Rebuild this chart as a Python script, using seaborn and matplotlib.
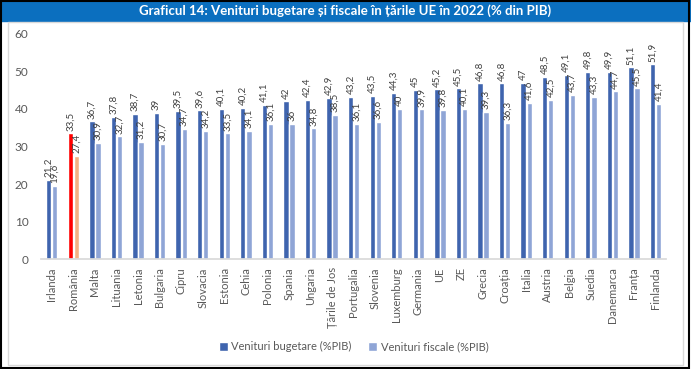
import pandas as pd
import matplotlib.pyplot as plt
import seaborn as sns
from matplotlib.patches import Rectangle

# ── Data ──────────────────────────────────────────────────────────────────────
countries = ['Irlanda', 'România', 'Malta', 'Lituania', 'Letonia', 'Bulgaria', 'Cipru',
             'Slovacia', 'Estonia', 'Cehia', 'Polonia', 'Spania', 'Ungaria', 'Țările de Jos',
             'Portugalia', 'Slovenia', 'Luxemburg', 'Germania', 'UE', 'ZE', 'Grecia',
             'Croația', 'Italia', 'Austria', 'Belgia', 'Suedia', 'Danemarca', 'Franța',
             'Finlanda']
venituri_bugetare = [21.2, 33.5, 36.7, 37.8, 38.7, 39, 39.5, 39.6, 40.1, 40.2, 41.1, 42,
                     42.4, 42.9, 43.2, 43.5, 44.3, 45, 45.2, 45.5, 46.8, 46.8, 47, 48.5,
                     49.1, 49.8, 49.9, 51.1, 51.9]
venituri_fiscale = [19.6, 27.4, 30.9, 32.7, 31.2, 30.7, 34.7, 34.2, 33.5, 34.1, 36.1, 36,
                    34.8, 38.5, 36.1, 36.6, 40, 39.9, 39.8, 40.1, 39.3, 36.3, 41.6, 42.5,
                    43.7, 43.3, 44.7, 45.5, 41.4]
series = ['Venituri bugetare (%PIB)', 'Venituri fiscale (%PIB)']

df = pd.DataFrame({
    'tara': countries * 2,
    'serie': [series[0]] * len(countries) + [series[1]] * len(countries),
    'valoare': venituri_bugetare + venituri_fiscale,
})

# ── Style ─────────────────────────────────────────────────────────────────────
sns.set_theme(style='white')
plt.rcParams['font.family'] = ['Lato', 'DejaVu Sans']
txt_gray = '#595959'
dark, light = '#3F64AE', '#8FA5D6'

fig = plt.figure(figsize=(6.91, 3.69), dpi=100)
ax = fig.add_axes([0.0593, 0.298, 0.905, 0.61])

sns.barplot(data=df, x='tara', y='valoare', hue='serie', palette=[dark, light],
            width=0.56, gap=0.12, saturation=1, ax=ax)

# highlight Romania
ro = countries.index('România')
ax.containers[0][ro].set_facecolor('#FF0000')
ax.containers[1][ro].set_facecolor('#F4B183')

# value labels, decimal comma
for cont, vals in zip(ax.containers, [venituri_bugetare, venituri_fiscale]):
    labels = [f'{v:g}'.replace('.', ',') for v in vals]
    ax.bar_label(cont, labels=labels, rotation=90, padding=2, fontsize=7, color='#404040')

ax.set_ylim(0, 60)
ax.set_yticks(range(0, 61, 10))
ax.set_xlim(-0.5, len(countries) - 0.5)
ax.set_xlabel('')
ax.set_ylabel('')
ax.tick_params(axis='x', labelrotation=90, labelsize=8, colors=txt_gray, length=0, pad=6)
ax.tick_params(axis='y', labelsize=8.5, colors=txt_gray, length=0, pad=9)
for s in ['top', 'right', 'left']:
    ax.spines[s].set_visible(False)
ax.spines['bottom'].set_color('#D9D9D9')

ax.legend(loc='center', bbox_to_anchor=(0.5, -0.39), ncol=2, frameon=False,
          fontsize=8, labelcolor=txt_gray, handlelength=0.8, handleheight=0.8,
          handletextpad=0.3, columnspacing=1.5)

# title bar and frames
fig.patches.append(Rectangle((0, 1 - 21 / 369), 1, 21 / 369, transform=fig.transFigure,
                             color='#0B6FBF', zorder=0))
fig.text(0.5, 1 - 10.5 / 369, 'Graficul 14: Venituri bugetare și fiscale în țările UE în 2022 (% din PIB)',
         ha='center', va='center', color='white', fontsize=9.5, fontweight='bold')
fig.patches.append(Rectangle((8 / 691, 4 / 369), 675 / 691, 343 / 369, transform=fig.transFigure,
                             fill=False, edgecolor='#D9D9D9', lw=1))
fig.patches.append(Rectangle((1 / 691, 1 / 369), 688 / 691, 367 / 369, transform=fig.transFigure,
                             fill=False, edgecolor='black', lw=1.5))

fig.savefig('out.png', dpi=100)
